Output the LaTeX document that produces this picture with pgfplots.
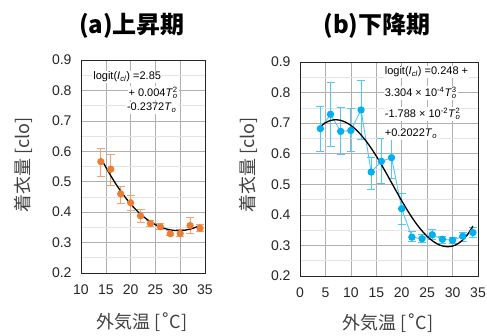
\documentclass[border=0pt]{standalone}
\usepackage{pgfplots}
\pgfplotsset{compat=1.18}
\usepackage{fontspec}
\setmainfont{Liberation Sans}
\newfontfamily\cjk{Noto Sans CJK JP}
\newfontfamily\dejavu{DejaVu Sans}
\definecolor{orng}{HTML}{ED7D31}
\definecolor{orngl}{HTML}{F4A070}
\definecolor{blu}{HTML}{00B0F0}
\definecolor{blul}{HTML}{4FC8F5}
\definecolor{lab}{HTML}{404040}
\definecolor{gmaj}{HTML}{B0B0B0}
\definecolor{gmin}{HTML}{E4E4E4}
\begin{document}
\begin{tikzpicture}
\path[use as bounding box] (0pt,0pt) rectangle (487pt,336pt);
\pgfplotsset{
  mystyle/.style={
    scale only axis, anchor=south west,
    ymin=0.2, ymax=0.9, ytick={0.2,0.3,...,0.9},
    minor y tick num=1,
    grid=both,
    major grid style={gmaj, line width=0.6pt},
    minor grid style={gmin, line width=0.6pt},
    axis line style={black!85, line width=0.9pt},
    tick style={draw=none},
    tick label style={font=\fontsize{14}{16}\selectfont, text=black!85},
    /pgf/number format/assume math mode=true,
    yticklabel style={/pgf/number format/fixed, /pgf/number format/precision=1, /pgf/number format/fixed zerofill, xshift=-6pt},
    xticklabel style={yshift=-8pt},
    clip=false,
  }
}
% ---------------- (a) ----------------
\begin{axis}[mystyle, at={(81pt,63pt)}, width=124pt, height=213pt,
  xmin=10, xmax=35, xtick={10,15,...,35}]
\addplot[orngl, line width=0.8pt, draw=none, mark=*, mark size=3.2pt, mark options={fill=orng, draw=orng},
  error bars/.cd, y dir=both, y explicit, error bar style={orngl, line width=0.9pt}, error mark options={rotate=90, mark size=4pt, orngl, line width=0.9pt}]
  table[x=x, y=y, y error plus=ep, y error minus=em] {
x y ep em
14 0.566 0.044 0.049
16 0.541 0.049 0.052
18 0.460 0.026 0.030
20 0.431 0.023 0.026
22 0.388 0.022 0.022
24 0.363 0.011 0.011
26 0.352 0.010 0.008
28 0.329 0.011 0.007
30 0.330 0.012 0.010
32 0.356 0.027 0.026
34 0.347 0.013 0.010
};
\addplot[black, line width=1.3pt, smooth] coordinates {
(14,0.5777)(15,0.5479)(16,0.5197)(17,0.4934)(18,0.4691)(19,0.4470)(20,0.4270)
(21,0.4092)(22,0.3935)(23,0.3800)(24,0.3685)(25,0.3589)(26,0.3513)(27,0.3456)
(28,0.3417)(29,0.3397)(30,0.3394)(31,0.3409)(32,0.3443)(33,0.3494)(34,0.3564)};
\node[anchor=west, fill=white, inner sep=1pt, font=\fontsize{11}{12}\selectfont] at (rel axis cs:0.09,0.92) {logit(\textit{I}\textsubscript{\textit{cl}}) =2.85};
\node[anchor=east, fill=white, inner sep=1pt, font=\fontsize{11}{12}\selectfont] at (rel axis cs:0.79,0.845) {+ 0.004\textit{T}\rlap{\textsubscript{\textit{o}}}\textsuperscript{2}};
\node[anchor=east, fill=white, inner sep=1pt, font=\fontsize{11}{12}\selectfont] at (rel axis cs:0.78,0.775) {-0.2372\textit{T}\textsubscript{\textit{o}}};
\end{axis}
% ---------------- (b) ----------------
\begin{axis}[mystyle, at={(300pt,60pt)}, width=178pt, height=214pt,
  xmin=0, xmax=35, xtick={0,5,...,35}]
\addplot[blul, line width=0.9pt, mark=*, mark size=3.2pt, mark options={fill=blu, draw=blu},
  error bars/.cd, y dir=both, y explicit, error bar style={blul, line width=0.9pt}, error mark options={rotate=90, mark size=4pt, blul, line width=0.9pt}]
  table[x=x, y=y, y error plus=ep, y error minus=em] {
x y ep em
4 0.682 0.071 0.073
6 0.729 0.103 0.104
8 0.673 0.077 0.076
10 0.676 0.071 0.070
12 0.743 0.095 0.095
14 0.540 0.049 0.056
16 0.575 0.074 0.073
18 0.587 0.068 0.069
20 0.420 0.051 0.051
22 0.327 0.019 0.013
24 0.322 0.013 0.013
26 0.335 0.016 0.016
28 0.320 0.010 0.012
30 0.317 0.010 0.011
32 0.330 0.014 0.016
34 0.342 0.018 0.017
};
\addplot[black, line width=1.3pt, smooth] coordinates {
(4,0.6882)(5,0.7013)(6,0.7087)(7,0.7111)(8,0.7090)(9,0.7027)(10,0.6926)
(11,0.6789)(12,0.6616)(13,0.6412)(14,0.6180)(15,0.5922)(16,0.5645)(17,0.5353)
(18,0.5053)(19,0.4754)(20,0.4460)(21,0.4180)(22,0.3919)(23,0.3682)(24,0.3474)
(25,0.3297)(26,0.3155)(27,0.3049)(28,0.2983)(29,0.2958)(30,0.2979)(31,0.3050)
(32,0.3177)(33,0.3369)(34,0.3635)};
\node[anchor=west, fill=white, inner sep=1pt, font=\fontsize{11}{12}\selectfont] at (rel axis cs:0.47,0.953) {logit(\textit{I}\textsubscript{\textit{cl}}) =0.248 +};
\node[anchor=west, fill=white, inner sep=1pt, font=\fontsize{11}{12}\selectfont] at (rel axis cs:0.47,0.855) {3.304 × 10\textsuperscript{-4}\textit{T}\rlap{\textsubscript{\textit{o}}}\textsuperscript{3}};
\node[anchor=west, fill=white, inner sep=1pt, font=\fontsize{11}{12}\selectfont] at (rel axis cs:0.47,0.757) {-1.788 × 10\textsuperscript{-2}\textit{T}\rlap{\textsubscript{\textit{o}}}\textsuperscript{2}};
\node[anchor=west, fill=white, inner sep=1pt, font=\fontsize{11}{12}\selectfont] at (rel axis cs:0.47,0.664) {+0.2022\textit{T}\textsubscript{\textit{o}}};
\end{axis}
% ---------------- titles and labels ----------------
\node[font=\cjk\bfseries\fontsize{24}{26}\selectfont] at (132pt,310pt) {(a)上昇期};
\node[font=\cjk\bfseries\fontsize{24}{26}\selectfont] at (377pt,310pt) {(b)下降期};
\node[rotate=90, text=lab, font=\cjk\fontsize{18}{20}\selectfont] at (23pt,171pt) {着衣量 [clo]};
\node[rotate=90, text=lab, font=\cjk\fontsize{18}{20}\selectfont] at (248pt,171pt) {着衣量 [clo]};
\node[text=lab, font=\cjk\fontsize{18}{20}\selectfont] at (142pt,14pt) {外気温 [{\dejavu ˚}C]};
\node[text=lab, font=\cjk\fontsize{18}{20}\selectfont] at (388pt,13pt) {外気温 [{\dejavu ˚}C]};
\end{tikzpicture}
\end{document}
